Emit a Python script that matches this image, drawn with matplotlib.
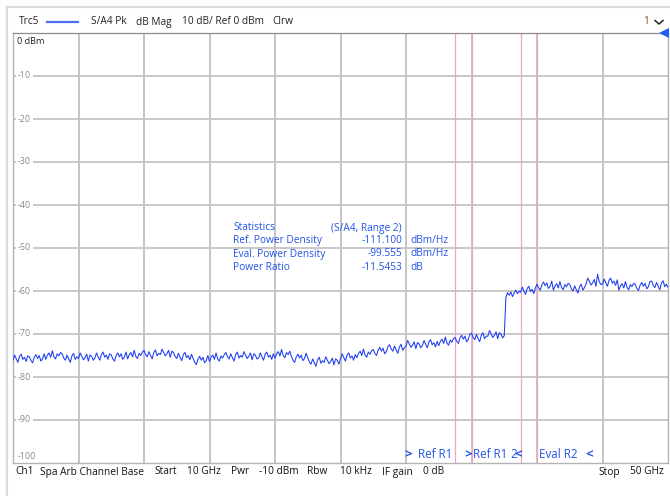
#!/usr/bin/env python3

# Spectrum trace of S/A4 with channel power statistics

import numpy as np
import matplotlib.pyplot as plt
from matplotlib.lines import Line2D
from matplotlib.transforms import offset_copy

plt.rcParams['font.family'] = ['Open Sans', 'DejaVu Sans']

W, H = 670, 496

# trace levels in dBm, 0.1 GHz steps from 10 GHz to 50 GHz
trace_dbm = [
    -76.1, -74.9, -75.8, -76.6, -75.2, -74.7, -75.9, -75.4, -76.4, -75.1,
    -75.3, -76.2, -76.7, -75.4, -74.8, -75.7, -75.0, -76.3, -75.8, -74.6,
    -75.9, -74.9, -74.4, -75.4, -73.9, -75.3, -75.8, -74.6, -75.1, -74.3,
    -74.6, -75.6, -76.1, -74.9, -75.8, -76.6, -75.1, -74.5, -75.9, -75.3,
    -75.7, -74.4, -75.2, -76.0, -75.5, -74.7, -76.3, -74.9, -75.2, -76.1,
    -75.6, -74.4, -75.3, -76.1, -74.7, -74.2, -75.4, -74.9, -75.9, -74.6,
    -74.9, -75.8, -76.3, -75.0, -74.4, -75.3, -74.6, -75.9, -75.4, -74.2,
    -75.8, -74.8, -74.3, -75.3, -73.8, -75.2, -75.7, -74.5, -75.0, -74.2,
    -73.8, -74.8, -75.3, -74.1, -75.0, -75.8, -74.3, -73.7, -75.1, -74.5,
    -74.8, -73.5, -74.3, -75.1, -74.6, -73.8, -75.4, -74.0, -74.3, -75.2,
    -75.7, -74.5, -75.4, -76.2, -74.8, -74.3, -75.5, -75.0, -76.0, -74.7,
    -75.7, -76.6, -77.1, -75.8, -75.2, -76.1, -75.4, -76.7, -76.2, -75.0,
    -76.4, -75.4, -74.9, -75.9, -74.4, -75.8, -76.3, -75.1, -75.6, -74.8,
    -74.3, -75.3, -75.8, -74.6, -75.5, -76.3, -74.8, -74.2, -75.6, -75.0,
    -75.4, -74.1, -74.9, -75.7, -75.2, -74.4, -76.0, -74.6, -74.9, -75.8,
    -75.6, -74.4, -75.3, -76.1, -74.7, -74.2, -75.4, -74.9, -75.9, -74.6,
    -75.6, -74.6, -74.1, -75.1, -73.6, -75.0, -75.5, -74.3, -74.8, -74.0,
    -75.2, -76.1, -76.6, -75.3, -74.7, -75.6, -74.9, -76.2, -75.7, -74.5,
    -75.5, -76.5, -77.0, -75.8, -76.7, -77.5, -76.0, -75.4, -76.8, -76.2,
    -76.6, -75.3, -76.1, -76.9, -76.4, -75.6, -77.2, -75.8, -76.1, -77.0,
    -75.8, -74.6, -75.5, -76.3, -74.9, -74.4, -75.6, -75.1, -76.1, -74.8,
    -75.5, -74.5, -74.0, -75.0, -73.5, -74.9, -75.4, -74.2, -74.7, -73.9,
    -73.6, -74.5, -75.0, -73.7, -73.1, -74.0, -73.3, -74.6, -74.1, -72.9,
    -72.5, -73.5, -74.0, -72.8, -73.7, -74.5, -73.0, -72.4, -73.8, -73.2,
    -72.8, -71.5, -72.3, -73.1, -72.6, -71.8, -73.4, -72.0, -72.3, -73.2,
    -72.7, -71.5, -72.4, -73.2, -71.8, -71.3, -72.5, -72.0, -73.0, -71.7,
    -72.7, -71.7, -71.2, -72.2, -70.7, -72.1, -72.6, -71.4, -71.9, -71.1,
    -70.8, -71.7, -72.2, -70.9, -70.3, -71.2, -70.5, -71.8, -71.3, -70.1,
    -69.8, -70.8, -71.3, -70.1, -71.0, -71.8, -70.3, -69.7, -71.1, -70.5,
    -70.5, -69.2, -70.0, -70.8, -70.3, -69.5, -71.1, -69.7, -70.0, -70.9,
    -70.4, -61.5, -60.4, -61.0, -60.2, -61.3, -60.5, -59.8, -60.6, -60.1,
    -60.3, -59.1, -60.0, -60.8, -59.4, -58.9, -60.1, -59.6, -60.6, -59.3,
    -58.4, -59.3, -59.8, -58.5, -57.9, -58.8, -58.1, -59.4, -58.9, -57.7,
    -59.8, -58.8, -58.3, -59.3, -57.8, -59.2, -59.7, -58.5, -59.0, -58.2,
    -58.5, -59.5, -60.0, -58.8, -59.7, -60.5, -59.0, -58.4, -59.8, -59.2,
    -58.3, -57.0, -57.8, -58.6, -58.1, -57.3, -58.9, -56.1, -57.8, -58.5,
    -58.4, -57.2, -58.1, -58.9, -57.5, -57.0, -58.2, -57.7, -58.7, -57.4,
    -59.8, -58.8, -58.3, -59.3, -57.8, -59.2, -59.7, -58.5, -59.0, -58.2,
    -58.5, -59.4, -59.9, -58.6, -58.0, -58.9, -58.2, -59.5, -59.0, -57.8,
    -57.7, -58.7, -59.2, -58.0, -58.9, -59.7, -58.2, -57.6, -59.0, -58.4,
    -59.2,
]
freq_ghz = np.linspace(10, 50, len(trace_dbm))

f_start, f_stop = 10, 50
ref_level, db_per_div = 0, 10
range_lines_ghz = [37, 38, 41, 42]
level_labels = [-10, -20, -30, -40, -50, -60, -70, -80, -90]

stat_rows = [
    ("Statistics", "(S/A4, Range 2)", ""),
    ("Ref. Power Density", "-111.100", "dBm/Hz"),
    ("Eval. Power Density", "-99.555", "dBm/Hz"),
    ("Power Ratio", "-11.5453", "dB"),
]

header_items = [(19, "Trc5"), (91, "S/A4 Pk"), (136, "dB Mag"),
                (182, "10 dB/ Ref 0 dBm"), (272, "Clrw")]
footer_items = [(15, "Ch1"), (40, "Spa Arb Channel Base"), (154, "Start"),
                (187, "10 GHz"), (231, "Pwr"), (259, "-10 dBm"), (307, "Rbw"),
                (340, "10 kHz"), (382, "IF gain"), (423, "0 dB"),
                (598, "Stop"), (630, "50 GHz")]

BLUE_TEXT = '#2352e8'
TRACE = '#1d3cf2'
GRID = '#b4b4b4'
PINK = '#f2a3c6'


def px(x, y):
    return x / W, 1 - y / H


def ftext(x, y, s, **kw):
    fx, fy = px(x, y)
    kw.setdefault('va', 'center')
    kw.setdefault('fontsize', 7.3)
    return fig.text(fx, fy, s, **kw)


fig = plt.figure(figsize=(W / 100, H / 100), dpi=100)

# panel border
fig.add_artist(Line2D([px(7, 0)[0], px(7, 0)[0]], [px(0, 7)[1], 0],
                      color='#d8dcdf', lw=1.6))
fig.add_artist(Line2D([px(7, 0)[0], 1], [px(0, 7)[1], px(0, 7)[1]],
                      color='#d8dcdf', lw=1.6))

l, r, t, b = 13, 668, 33, 463
ax = fig.add_axes([l / W, 1 - b / H, (r - l) / W, (b - t) / H])
ax.set_xlim(f_start, f_stop)
ax.set_ylim(ref_level - 10 * db_per_div, ref_level)
ax.set_xticks([])
ax.set_yticks([])
for side in ['left', 'right', 'bottom']:
    ax.spines[side].set_color(GRID)
    ax.spines[side].set_linewidth(1.0)
ax.spines['top'].set_color('#8c8c8c')
ax.spines['top'].set_linewidth(0.9)
ax.spines['top'].set_linestyle((0, (2, 1)))

# grid
for f in np.arange(f_start + 4, f_stop, 4):
    ax.axvline(f, color=GRID, lw=1.1, zorder=1)
for lvl in level_labels:
    ax.axhline(lvl, color='#c4c4c4', lw=1.3, zorder=1)
    ax.text(5 / (r - l), lvl, str(lvl), transform=ax.get_yaxis_transform(),
            fontsize=6.4, color='#8a8a8a', va='center', ha='left', zorder=3,
            bbox=dict(boxstyle='square,pad=0.25', fc='white', ec='none'))
ax.text(4 / (r - l), -2, "0 dBm", transform=ax.get_yaxis_transform(),
        fontsize=6.6, color='#222222', va='center', ha='left')
ax.text(5 / (r - l), -98.6, "-100", transform=ax.get_yaxis_transform(),
        fontsize=6.4, color='#8a8a8a', va='center', ha='left')

# range lines
for f in range_lines_ghz:
    ax.axvline(f, color=PINK, lw=0.9, zorder=2)

ax.plot(freq_ghz, trace_dbm, color=TRACE, lw=0.75, zorder=4)

# reference level marker, tip pointing into the grid
ref_tr = offset_copy(ax.transData, fig=fig, x=-4.5, y=0, units='dots')
ax.plot([f_stop], [ref_level], marker='<', markersize=7.5, color='#1f5ef0',
        markeredgewidth=0, clip_on=False, zorder=5, transform=ref_tr)

# statistics table
for i, (name, value, unit) in enumerate(stat_rows):
    y = 228 + 13 * i
    ftext(233, y, name, color=BLUE_TEXT)
    ftext(402, y, value, color=BLUE_TEXT, ha='right')
    if unit:
        ftext(410, y, unit, color=BLUE_TEXT)

# range labels along the bottom
lab_kw = dict(color=BLUE_TEXT, fontsize=8.4)
chev_kw = dict(color=BLUE_TEXT, fontsize=9.5, fontweight='bold')
ftext(404, 455, ">", **chev_kw)
ftext(418, 455, "Ref R1", **lab_kw)
ftext(464, 455, ">", **chev_kw)
ftext(473, 455, "Ref R1", **lab_kw)
ftext(510, 455, "2", **lab_kw)
ftext(514, 455, "<", **chev_kw)
ftext(539, 455, "Eval R2", **lab_kw)
ftext(585, 455, "<", **chev_kw)

# header line
for x, s in header_items:
    ftext(x, 22, s, color='#222222')
fig.add_artist(Line2D([px(47, 0)[0], px(78, 0)[0]], [px(0, 22)[1]] * 2,
                      color='#4d6ff2', lw=1.6))
ftext(643, 22, "1", color='#7a4e24')
fig.add_artist(Line2D([px(655, 0)[0], px(659, 0)[0], px(663, 0)[0]],
                      [px(0, 20.5)[1], px(0, 24)[1], px(0, 20.5)[1]],
                      color='#222222', lw=1.1))

# footer line
for x, s in footer_items:
    ftext(x, 472, s, color='#111111')

fig.savefig('out.png', dpi=100)
